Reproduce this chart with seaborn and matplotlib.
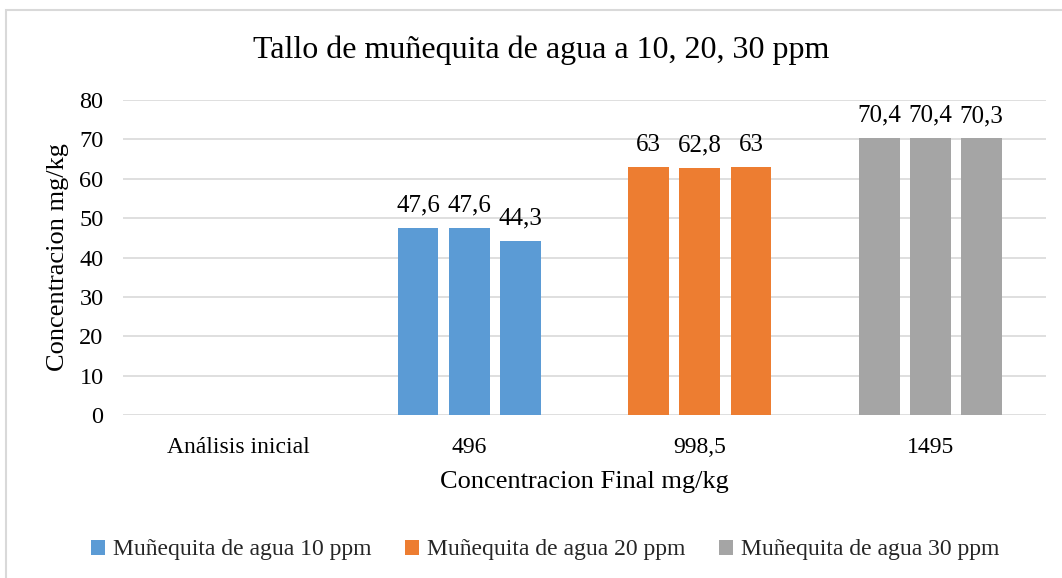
import numpy as np
import pandas as pd
import matplotlib
matplotlib.use("Agg")
import matplotlib.pyplot as plt
from matplotlib.patches import Patch, Rectangle
import seaborn as sns

categories = ["Análisis inicial", "496", "998,5", "1495"]
series_names = ["Muñequita de agua 10 ppm", "Muñequita de agua 20 ppm", "Muñequita de agua 30 ppm"]
series_colors = ["#5B9BD5", "#ED7D31", "#A5A5A5"]
# series shown in each category (None = no bars)
category_series = [None, 0, 1, 2]
rep1 = [np.nan, 47.6, 63.0, 70.4]
rep2 = [np.nan, 47.6, 62.8, 70.4]
rep3 = [np.nan, 44.3, 63.0, 70.3]
yticks = [0, 10, 20, 30, 40, 50, 60, 70, 80]

rows = []
for rep_name, vals in zip(["r1", "r2", "r3"], [rep1, rep2, rep3]):
    for c, v in zip(categories, vals):
        rows.append({"cat": c, "rep": rep_name, "val": v})
df = pd.DataFrame(rows)

sns.set_theme(style="white")
plt.rcParams["font.family"] = ["Liberation Serif", "DejaVu Serif"]

fig = plt.figure(figsize=(10.62, 5.78), dpi=100)
ax = fig.add_axes([123/1062, 1-415/578, (1046-123)/1062, 315/578])

sns.barplot(data=df, x="cat", y="val", hue="rep", order=categories,
            hue_order=["r1", "r2", "r3"], width=0.664, gap=0.2,
            palette=["#000000"]*3, ax=ax, legend=False, saturation=1)

for cont in ax.containers:
    for bar in cont:
        xc = bar.get_x() + bar.get_width()/2
        ci = int(round(xc))
        s = category_series[ci]
        if s is None or np.isnan(bar.get_height()):
            bar.set_visible(False)
            continue
        bar.set_facecolor(series_colors[s])
        bar.set_edgecolor("none")
    labels = []
    for bar in cont:
        h = bar.get_height()
        if not bar.get_visible() or np.isnan(h):
            labels.append("")
        else:
            labels.append(f"{h:g}".replace(".", ","))
    ax.bar_label(cont, labels=labels, padding=8, fontsize=18, color="#000000")

ax.set_ylim(0, 80)
ax.set_yticks(yticks)
ax.set_xlim(-0.5, len(categories)-0.5)
ax.yaxis.grid(True, color="#d9d9d9", linewidth=1.2)
ax.set_axisbelow(True)
for sp in ax.spines.values():
    sp.set_visible(False)
ax.tick_params(axis="y", length=0, pad=14, labelsize=17.5, labelcolor="#000000")
ax.tick_params(axis="x", length=0, pad=16, labelsize=17, labelcolor="#000000")

ax.set_ylabel("Concentracion mg/kg", fontsize=19, color="#000000")
ax.yaxis.set_label_coords(-0.058, 0.5)
ax.set_xlabel("Concentracion Final mg/kg", fontsize=19, color="#000000")
ax.xaxis.set_label_coords(0.5, -0.213)
ax.xaxis.label.set_va("center")

fig.text(541/1062, 1-50/578, "Tallo de muñequita de agua a 10, 20, 30 ppm", fontsize=23,
         color="#000000", ha="center", va="center")

handles = [Patch(facecolor=c, edgecolor="none", label=n) for c, n in zip(series_colors, series_names)]
fig.legend(handles=handles, loc="center", bbox_to_anchor=(545/1062, 1-550/578), ncol=3,
           frameon=False, fontsize=17, handlelength=0.6, handleheight=0.6,
           handletextpad=0.35, columnspacing=1.4)

fig.patches.append(Rectangle((6/1062, -0.1), 1.2, 1-10/578+0.1, transform=fig.transFigure,
                             fill=False, edgecolor="#d9d9d9", linewidth=1.5))

fig.savefig("out.png", dpi=100)
